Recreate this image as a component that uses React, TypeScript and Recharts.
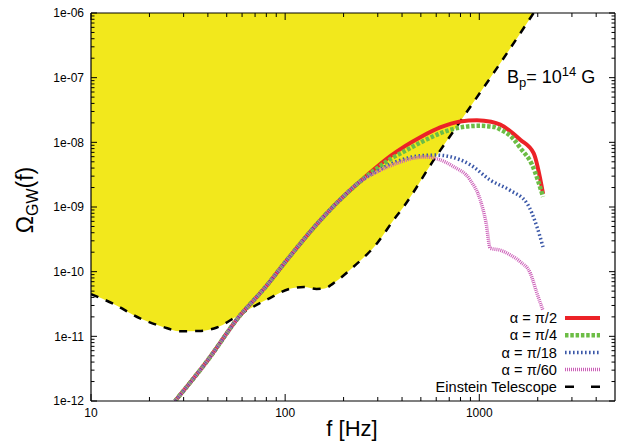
import React from "react";
import { ComposedChart, Line, Area, XAxis, YAxis, Legend } from "recharts";

const W = 633;
const H = 446;
const FONT = "'Liberation Sans', Arial, Helvetica, sans-serif";

// ---- tick values / labels ----
const xMajorTicks = [10, 100, 1000];
const xMajorLabels = ["10", "100", "1000"];
const xMinorTicks = [20, 30, 40, 50, 60, 70, 80, 90, 200, 300, 400, 500, 600, 700, 800, 900, 2000, 3000, 4000];
const yMajorTicks = [1e-12, 1e-11, 1e-10, 1e-9, 1e-8, 1e-7, 1e-6];
const yMajorLabels = ["1e-12", "1e-11", "1e-10", "1e-09", "1e-08", "1e-07", "1e-06"];
const yMinorMultipliers = [2, 3, 4, 5, 6, 7, 8, 9];

// ---- Einstein Telescope sensitivity ----
const etFreq = [10, 13, 17.9, 23.5, 28.8, 36, 44.5, 58.6, 80.5, 110, 125, 145, 160, 177, 225, 297, 362, 407, 582, 830, 1282, 1905];
const etOmega = [4.5e-11, 3.2e-11, 1.9e-11, 1.4e-11, 1.2e-11, 1.21e-11, 1.37e-11, 2.2e-11, 3.7e-11, 5.6e-11, 5.8e-11, 5.4e-11, 5.5e-11, 6.6e-11, 1.19e-10, 2.73e-10, 6.3e-10, 1e-9, 5.3e-9, 2.5e-8, 1.67e-7, 1e-6];
const yTop = 1e-6;

// ---- common low-frequency branch (all alpha) ----
const commonFreq = [27.1, 40, 57, 80, 100, 150, 192, 240];
const commonOmega = [1e-12, 4.3e-12, 1.9e-11, 6e-11, 1.4e-10, 6e-10, 1.3e-9, 2.4e-9];

// alpha = pi/2
const redFreq = [309, 348, 416, 497, 629, 798, 972, 1150, 1282, 1626, 1905, 2130];
const redOmega = [4.6e-9, 6.1e-9, 8.8e-9, 1.2e-8, 1.7e-8, 2.1e-8, 2.2e-8, 2.08e-8, 1.88e-8, 1.1e-8, 6.8e-9, 1.6e-9];
// alpha = pi/4
const greenFreq = [309, 348, 416, 516, 629, 798, 1000, 1200, 1282, 1503, 1626, 1870, 2130];
const greenOmega = [4.3e-9, 5.5e-9, 7.4e-9, 1.05e-8, 1.38e-8, 1.7e-8, 1.8e-8, 1.72e-8, 1.58e-8, 1.12e-8, 8.2e-9, 4.5e-9, 1.44e-9];
// alpha = pi/18
const blueFreq = [309, 348, 416, 497, 600, 708, 899, 1140, 1445, 1762, 1983, 2130];
const blueOmega = [3.8e-9, 4.6e-9, 5.6e-9, 6.2e-9, 6.35e-9, 6.0e-9, 4.5e-9, 2.6e-9, 1.8e-9, 1.14e-9, 4.9e-10, 2.4e-10];
// alpha = pi/60
const pinkFreq = [309, 380, 460, 530, 600, 738, 899, 1012, 1080, 1140, 1282, 1450, 1626, 1833, 1983, 2130];
const pinkOmega = [3.7e-9, 4.8e-9, 5.7e-9, 5.95e-9, 5.6e-9, 4.2e-9, 2.6e-9, 1.28e-9, 6e-10, 2.3e-10, 2.15e-10, 1.8e-10, 1.42e-10, 9.4e-11, 4.6e-11, 2.5e-11];

const seriesNames = ["α = π/2", "α = π/4", "α = π/18", "α = π/60", "Einstein Telescope"];

const COLORS = {
  red: "#ec2227",
  green: "#6cbd45",
  blue: "#3b58a8",
  pink: "#cc5fb8",
  yellow: "#f2e81c",
};

const mk = (fs: number[], vs: number[]) => fs.map((f, i) => ({ f, v: vs[i] }));
const etArea = etFreq.map((f, i) => ({ f, range: [etOmega[i], yTop] }));
const etLine = mk(etFreq, etOmega);
const redData = mk([...commonFreq, ...redFreq], [...commonOmega, ...redOmega]);
const greenData = mk([...commonFreq, ...greenFreq], [...commonOmega, ...greenOmega]);
const blueData = mk([...commonFreq, ...blueFreq], [...commonOmega, ...blueOmega]);
const pinkData = mk([...commonFreq, ...pinkFreq], [...commonOmega, ...pinkOmega]);

const allXTicks = [...xMajorTicks, ...xMinorTicks].sort((a, b) => a - b);
const allYTicks: number[] = [];
yMajorTicks.forEach((m, i) => {
  allYTicks.push(m);
  if (i < yMajorTicks.length - 1) yMinorMultipliers.forEach((k) => allYTicks.push(k * m));
});

const majorIndex = (v: number, majors: number[]) =>
  majors.findIndex((m) => Math.abs(Math.log10(v) - Math.log10(m)) < 1e-6);

const makeXTick = (side: "top" | "bottom") => (props: any) => {
  const { x, y, payload } = props;
  const idx = majorIndex(payload.value, xMajorTicks);
  const len = idx >= 0 ? 7 : 4;
  const dir = side === "top" ? 1 : -1;
  return (
    <g>
      <line x1={x} x2={x} y1={y} y2={y + dir * len} stroke="#000" strokeWidth={1} />
      {side === "bottom" && idx >= 0 && (
        <text x={x} y={y + 16} textAnchor="middle" fontSize={12} fontFamily={FONT} fill="#000">
          {xMajorLabels[idx]}
        </text>
      )}
    </g>
  );
};

const makeYTick = (side: "left" | "right") => (props: any) => {
  const { x, y, payload } = props;
  const idx = majorIndex(payload.value, yMajorTicks);
  const len = idx >= 0 ? 6 : 3.5;
  const dir = side === "left" ? 1 : -1;
  return (
    <g>
      <line x1={x} x2={x + dir * len} y1={y} y2={y} stroke="#000" strokeWidth={1} />
      {side === "left" && idx >= 0 && (
        <text x={x - 7} y={y} dy="0.35em" textAnchor="end" fontSize={12} fontFamily={FONT} fill="#000">
          {yMajorLabels[idx]}
        </text>
      )}
    </g>
  );
};

const XTickBottom = makeXTick("bottom");
const XTickTop = makeXTick("top");
const YTickLeft = makeYTick("left");
const YTickRight = makeYTick("right");

const legendStyles = [
  { stroke: COLORS.red, width: 4, dash: undefined as string | undefined },
  { stroke: COLORS.green, width: 4.5, dash: "3.5 1.8" },
  { stroke: COLORS.blue, width: 3.5, dash: "1.6 2.4" },
  { stroke: COLORS.pink, width: 3.5, dash: "1 1" },
  { stroke: "#000", width: 2.5, dash: "9 17" },
];

const LegendContent = () => (
  <svg width={220} height={92} style={{ overflow: "visible" }}>
    {seriesNames.map((name, i) => {
      const y = 13 + i * 17.2;
      const s = legendStyles[i];
      return (
        <g key={name}>
          <text x={162} y={y} dy="0.35em" textAnchor="end" fontSize={14.6} fontFamily={FONT} fill="#000">
            {name}
          </text>
          <line x1={170} x2={205} y1={y} y2={y} stroke={s.stroke} strokeWidth={s.width} strokeDasharray={s.dash} />
        </g>
      );
    })}
  </svg>
);

const axisLineStyle = { stroke: "#000", strokeWidth: 1.2 };

export default function App() {
  return (
    <div style={{ position: "absolute", left: 0, top: 0, width: W, height: H, background: "#fff" }}>
      <ComposedChart width={W} height={H} margin={{ top: 12, right: 17, bottom: 44, left: 90 }}>
        <XAxis
          xAxisId={0}
          dataKey="f"
          type="number"
          scale="log"
          domain={[10, 5000]}
          allowDataOverflow
          ticks={allXTicks}
          interval={0}
          height={1}
          tickSize={0}
          tickMargin={0}
          tickLine={false}
          tick={XTickBottom}
          axisLine={axisLineStyle}
        />
        <XAxis
          xAxisId="top"
          orientation="top"
          dataKey="f"
          type="number"
          scale="log"
          domain={[10, 5000]}
          allowDataOverflow
          ticks={allXTicks}
          interval={0}
          height={1}
          tickSize={0}
          tickMargin={0}
          tickLine={false}
          tick={XTickTop}
          axisLine={axisLineStyle}
        />
        <YAxis
          yAxisId={0}
          type="number"
          scale="log"
          domain={[1e-12, 1e-6]}
          allowDataOverflow
          ticks={allYTicks}
          interval={0}
          width={1}
          tickSize={0}
          tickMargin={0}
          tickLine={false}
          tick={YTickLeft}
          axisLine={axisLineStyle}
        />
        <YAxis
          yAxisId="right"
          orientation="right"
          type="number"
          scale="log"
          domain={[1e-12, 1e-6]}
          allowDataOverflow
          ticks={allYTicks}
          interval={0}
          width={1}
          tickSize={0}
          tickMargin={0}
          tickLine={false}
          tick={YTickRight}
          axisLine={axisLineStyle}
        />
        <Area
          data={etArea}
          dataKey="range"
          type="monotone"
          fill={COLORS.yellow}
          fillOpacity={1}
          stroke="none"
          isAnimationActive={false}
          legendType="none"
        />
        <Line data={etLine} dataKey="v" name="Einstein Telescope" type="monotone" stroke="#000" strokeWidth={2.5} strokeDasharray="8 8" dot={false} isAnimationActive={false} />
        <Line data={redData} dataKey="v" name={seriesNames[0]} type="monotone" stroke={COLORS.red} strokeWidth={4} dot={false} isAnimationActive={false} />
        <Line data={greenData} dataKey="v" name={seriesNames[1]} type="monotone" stroke={COLORS.green} strokeWidth={4.5} strokeDasharray="3.5 1.8" dot={false} isAnimationActive={false} />
        <Line data={blueData} dataKey="v" name={seriesNames[2]} type="monotone" stroke={COLORS.blue} strokeWidth={3.5} strokeDasharray="1.6 2.4" dot={false} isAnimationActive={false} />
        <Line data={pinkData} dataKey="v" name={seriesNames[3]} type="monotone" stroke={COLORS.pink} strokeWidth={3.5} strokeDasharray="1 1" dot={false} isAnimationActive={false} />
        <Legend
          layout="vertical"
          align="center"
          verticalAlign="middle"
          content={LegendContent}
          wrapperStyle={{ position: "absolute", left: 395, top: 305, width: 220, height: 92 }}
        />
      </ComposedChart>
      <svg width={W} height={H} style={{ position: "absolute", left: 0, top: 0, pointerEvents: "none" }}>
        <text x={33} y={200} transform="rotate(-90 33 200)" textAnchor="middle" fontSize={23} fontFamily={FONT} fill="#000">
          Ω<tspan fontSize={16} dy={5}>GW</tspan>
          <tspan fontSize={23} dy={-5}>(f)</tspan>
        </text>
        <text x={352} y={436} textAnchor="middle" fontSize={22} fontFamily={FONT} fill="#000">
          f [Hz]
        </text>
        <text x={507} y={83} fontSize={18} fontFamily={FONT} fill="#000">
          B<tspan fontSize={13} dy={4}>p</tspan>
          <tspan fontSize={18} dy={-4}>= 10</tspan>
          <tspan fontSize={13} dy={-7}>14</tspan>
          <tspan fontSize={18} dy={7}> G</tspan>
        </text>
      </svg>
    </div>
  );
}
